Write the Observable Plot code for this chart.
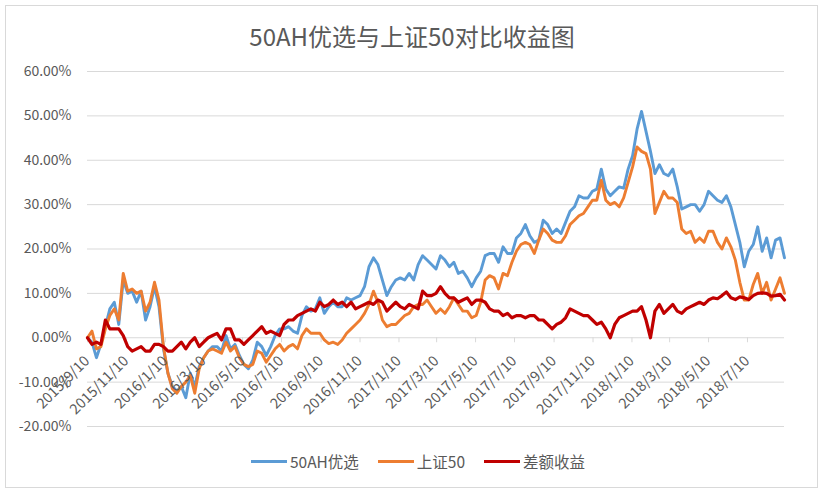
<!DOCTYPE html>
<html><head><meta charset="utf-8">
<script src="https://cdn.jsdelivr.net/npm/d3@7"></script>
<script src="https://cdn.jsdelivr.net/npm/@observablehq/plot@0.6"></script>
<style>
body{margin:0;background:#fff;font-family:"Noto Sans CJK SC","Noto Sans",sans-serif;color:#595959;}
#wrap{position:relative;width:824px;height:494px;overflow:hidden;background:#fff;}
#frame{position:absolute;left:5px;top:5px;width:811px;height:481px;border:1px solid #d9d9d9;}
#title{position:absolute;left:0;top:20px;width:824px;text-align:center;font-size:24px;line-height:32px;color:#595959;}
#chart{position:absolute;left:0;top:60px;}
#legend{position:absolute;left:6px;top:450px;width:824px;display:flex;justify-content:center;gap:19px;font-size:15.5px;line-height:22px;color:#595959;}
.item{display:flex;align-items:center;}
.sw{display:inline-block;width:36px;height:3px;margin-right:3px;}
</style></head>
<body>
<div id="wrap">
  <div id="frame"></div>
  <div id="title"></div>
  <div id="chart"></div>
  <div id="legend"></div>
</div>
<script>
const title = "50AH优选与上证50对比收益图";
const seriesNames = ["50AH优选", "上证50", "差额收益"];
const seriesColors = ["#5B9BD5", "#ED7D31", "#C00000"];
const startDate = "2015-09-10";
const stepDays = 7;
const yTicks = [-20, -10, 0, 10, 20, 30, 40, 50, 60];
const xTickLabels = ["2015/9/10","2015/11/10","2016/1/10","2016/3/10","2016/5/10","2016/7/10","2016/9/10","2016/11/10","2017/1/10","2017/3/10","2017/5/10","2017/7/10","2017/9/10","2017/11/10","2018/1/10","2018/3/10","2018/5/10","2018/7/10"];

// 50AH优选 (weekly, %)
const ahSelect = [0,-1,-4.5,-1.5,2.5,6.5,8,3,13,10,
10.5,8,10.5,4,7,11.5,7,-2.5,-8,-11,
-12,-11,-13.5,-8,-11,-6.5,-4.5,-3,-2,-2,
-3,0.5,-2.5,-1.5,-4,-6,-7,-5,-1,-2,
-4,-2,0.5,2,2,2.5,1.5,1,5,7,
6,6.5,9,5.5,7,8,7,7,9,8.5,
9,9.5,11.5,16,18,16.5,13,9.5,11.5,13,
13.5,13,14.5,13,16.5,18.5,17.5,16.5,15.5,18.5,
17.5,16,17,14.5,15,13.5,11.5,13.5,15,18.5,
19,19,17,20.5,19,19,22.5,23.5,25.5,23,
21.5,22,26.5,25.5,23.5,24.5,23.5,26,28.5,29.5,
32,31.5,31.5,33,33.5,38,33.5,32,33,34,
33.7,38,41,47,51,46.5,42,37,39,37,
36.5,38,34,29,29.5,30,30,28.5,30,33,
32,31,30.5,32,29.5,25.5,21.5,16,19.5,21,
25,19.5,22.5,18,22,22.5,18];

// 上证50 (weekly, %)
const sz50 = [0,1.5,-2.5,-2,2,5,6.5,4,14.5,10.5,
11,10,10.5,6,8,12.5,8.5,-2,-8,-11.5,
-12.5,-11,-10,-8.5,-12.5,-7,-4.5,-3,-2.5,-3,
-3.5,-1,-3,-2,-4.5,-6,-6.5,-6,-3,-3.5,
-5.5,-4,-2.5,-1.5,-3,-2,-1.5,-2.5,0.5,2,
1,1,1,-0.5,-1.3,-1,-1.5,-0.5,1,2,
3,4,5.5,7.5,10.5,8,4,2.5,3,3,
4,5,5.5,7,7.5,7.5,8.5,7,5.5,6.5,
5.5,7,9,7.5,6,6,4.5,5,8,13,
14,13.5,11,14.5,14,17,19.5,21,21.5,21,
19,22,24.5,23.5,22,21.5,21.5,23,25.5,26.5,
27.5,28,29.5,31,31,35.5,31,30,30.5,29.5,
31.5,35,38.5,43,42,41.5,38,28,30.5,33,
31.5,31.5,30.5,24.5,23.5,24,21.5,22.5,21.5,24,
24,21.5,20,22.5,20.5,17.5,12.5,8.5,8.5,12,
14.5,10,12.5,8.5,11,13.5,10];

// 差额收益 (weekly, %)
const excess = [0,-1.5,-1,-1.5,4,2,2,2,0.5,-2,
-3,-2.5,-2,-3,-3,-1.5,-1.5,-2,-3,-3,
-2,-1,-2.5,-1,0,-2,-1,0,0.5,1,
-0.5,2,2,-0.5,-0.5,-1.5,-0.5,0.5,1.5,2.5,
1,1.5,1,0.5,3,4,4,5,5.5,6,
6.5,6,8,7,7.5,8.5,7.5,8,7,8,
6.5,7,7.5,8,7.5,8.5,8,6,7,8,
7,6.5,7.5,7,6.5,10.5,9.5,9.5,10,11.5,
10,9,9,8,8.5,9,7.5,8.5,8.5,8,
6.5,6,6,5,5.5,4.5,5,5,4.5,5,
5,4,4,3,2,3,3.5,4.5,6.5,6,
5.5,5,5,4,3,3.5,2,0,3,4.5,
5,5.5,6,6,7,4,0,6,7.5,5.5,
6.5,7.5,6,5.5,6.5,7,7.5,8,7.5,8.5,
9,8.8,9.5,10.3,9,8.6,9.2,9,8.6,9.5,
10,10.1,10,9.4,9.5,9.8,8.5];

const font = '"Noto Sans CJK SC","Noto Sans",sans-serif';
const start = d3.utcParse("%Y-%m-%d")(startDate);
const dates = ahSelect.map((_, i) => d3.utcDay.offset(start, stepDays * i));
const parseTick = d3.utcParse("%Y/%m/%d");
const xTicks = xTickLabels.map(s => ({date: parseTick(s), label: s}));
const allSeries = [ahSelect, sz50, excess];

document.getElementById("title").textContent = title;

const lineMarks = allSeries.map((vals, k) =>
  Plot.line(vals.map((v, i) => ({date: dates[i], v})), {
    x: "date", y: "v", stroke: seriesColors[k], strokeWidth: k === 2 ? 3.2 : 2.9,
    strokeLinejoin: "round", strokeLinecap: "round"
  })
);

const chart = Plot.plot({
  width: 824, height: 380,
  marginLeft: 87, marginRight: 40, marginTop: 11, marginBottom: 14,
  style: {fontFamily: font, fontSize: "14px", color: "#595959", background: "transparent", overflow: "visible"},
  x: {type: "utc", domain: [dates[0], dates[dates.length - 1]], axis: null},
  y: {domain: [yTicks[0], yTicks[yTicks.length - 1]], ticks: yTicks, tickFormat: d => d.toFixed(2) + "%", tickSize: 0, tickPadding: 16, label: null},
  marks: [
    Plot.ruleY(yTicks, {stroke: "#d9d9d9", strokeWidth: 1}),
    Plot.ruleX(xTicks, {x: "date", y1: () => 0, y2: () => 0, insetBottom: -5, stroke: "#d9d9d9", strokeWidth: 1}),
    ...lineMarks,
    Plot.text(xTicks, {x: "date", y: () => 0, text: "label", rotate: -45, textAnchor: "end", lineAnchor: "bottom", dx: 3, dy: 24, fontSize: 14.5, fill: "#595959"})
  ]
});
document.getElementById("chart").appendChild(chart);

const legend = document.getElementById("legend");
seriesNames.forEach((name, k) => {
  const it = document.createElement("div");
  it.className = "item";
  const sw = document.createElement("span");
  sw.className = "sw";
  sw.style.background = seriesColors[k];
  const tx = document.createElement("span");
  tx.textContent = name;
  it.appendChild(sw); it.appendChild(tx);
  legend.appendChild(it);
});
</script>
</body></html>
